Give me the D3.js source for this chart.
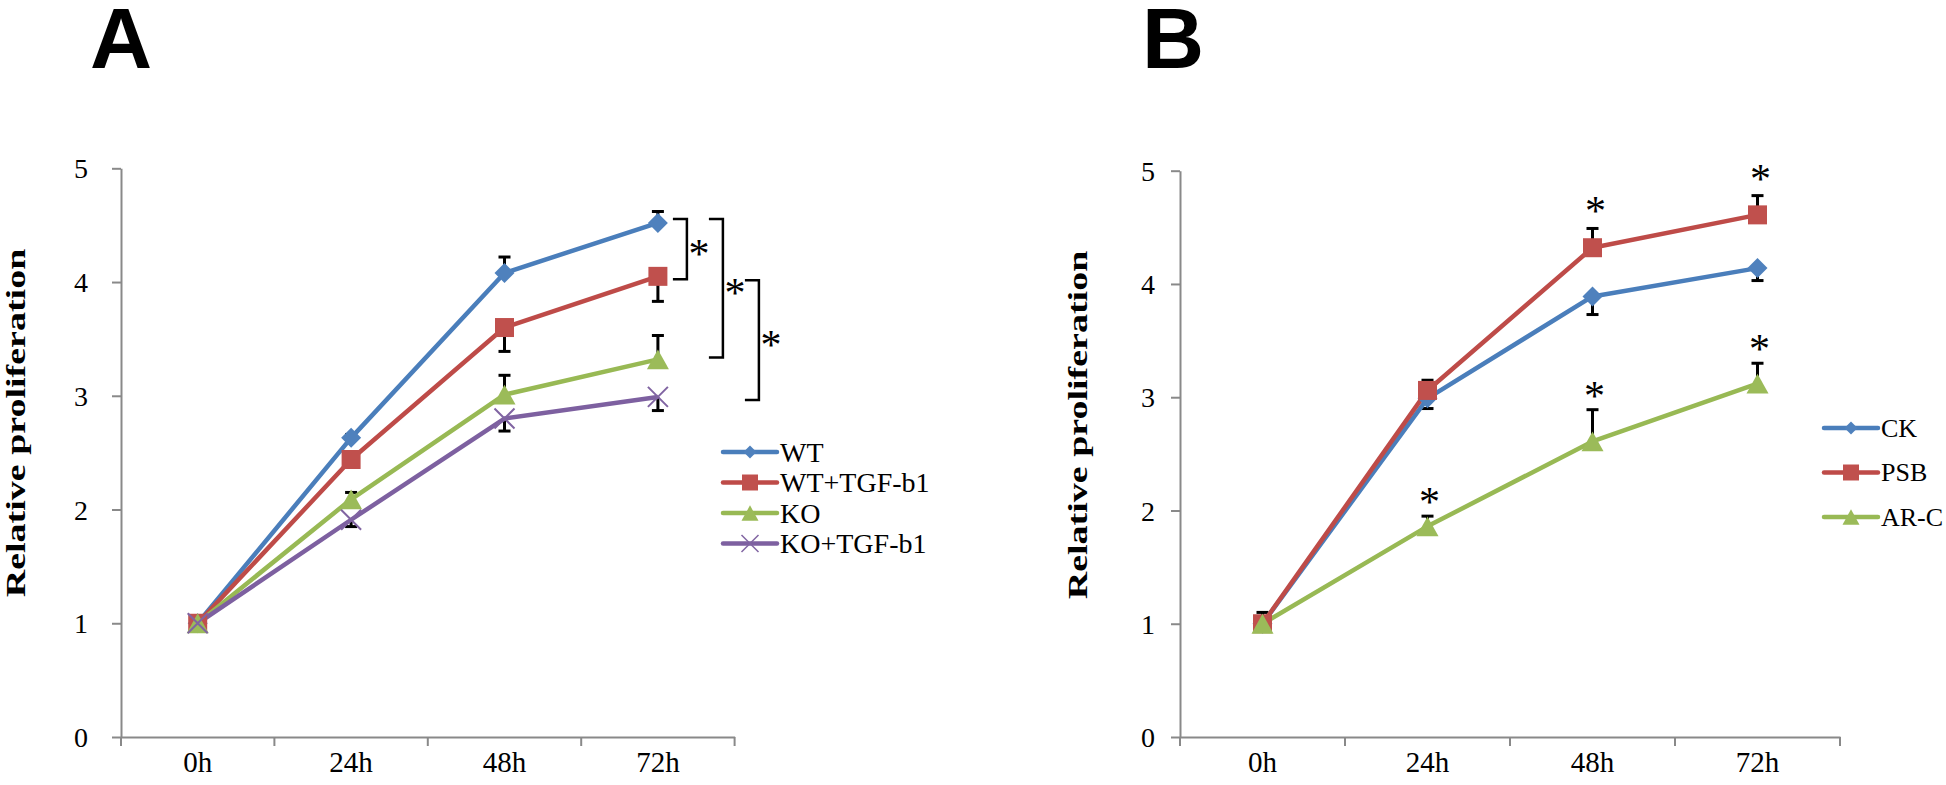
<!DOCTYPE html>
<html>
<head>
<meta charset="utf-8">
<script src="https://cdn.jsdelivr.net/npm/d3@7"></script>
<style>
body { margin: 0; background: #fff; }
svg { display: block; }
</style>
</head>
<body>
<div id="chart"></div>
<script>
const hours = ["0h", "24h", "48h", "72h"];
const yTicks = [0, 1, 2, 3, 4, 5];

// panel A
const namesA = ["WT", "WT+TGF-b1", "KO", "KO+TGF-b1"];
const wt = [1.00, 2.63, 4.08, 4.52];
const wtErr = [0.02, 0.03, 0.14, 0.10];
const wtTgf = [1.00, 2.44, 3.60, 4.05];
const wtTgfErr = [0.02, 0.04, 0.21, 0.22];
const ko = [1.00, 2.09, 3.01, 3.32];
const koErr = [0.02, 0.06, 0.17, 0.21];
const koTgf = [1.00, 1.91, 2.80, 2.99];
const koTgfErr = [0.02, 0.06, 0.11, 0.12];
const bracketsA = [[0, 1], [0, 2], [1, 3]]; // series compared at 72h

// panel B
const namesB = ["CK", "PSB", "AR-C"];
const ck = [1.00, 2.99, 3.89, 4.14];
const ckErr = [0.02, 0.09, 0.16, 0.11];
const psb = [1.00, 3.06, 4.32, 4.61];
const psbErr = [0.10, 0.09, 0.17, 0.17];
const arc = [1.00, 1.86, 2.61, 3.12];
const arcErr = [0.02, 0.09, 0.28, 0.18];
const psbSig = [false, false, true, true];
const arcSig = [false, true, true, true];

const width = 1946, height = 785;
const axisColor = "#898989";
const serif = "'Liberation Serif', 'Times New Roman', serif";

const svg = d3.select("#chart").append("svg")
  .attr("width", width)
  .attr("height", height)
  .attr("viewBox", [0, 0, width, height]);

function markerPath(shape, s) {
  const h = s / 2;
  if (shape === "diamond") return `M0,${-h}L${h},0L0,${h}L${-h},0Z`;
  if (shape === "square") return `M${-h},${-h}h${s}v${s}h${-s}Z`;
  if (shape === "triangle") return `M0,${-h * 0.9}L${h},${h * 0.9}L${-h},${h * 0.9}Z`;
  return `M${-h},${-h}L${h},${h}M${h},${-h}L${-h},${h}`; // x
}

const styles = [
  {line: "#4A7EBB", fill: "#4F81BD", shape: "diamond", size: 20, legendSize: 13},
  {line: "#BE4B48", fill: "#C0504D", shape: "square", size: 19, legendSize: 16},
  {line: "#98B954", fill: "#9BBB59", shape: "triangle", size: 22, legendSize: 17},
  {line: "#7D60A0", fill: "#8064A2", shape: "x", size: 20, legendSize: 17}
];

function drawPanel(p) {
  const x = d3.scaleBand(hours, [p.left, p.right]);
  const y = d3.scaleLinear([0, 5], [p.bottom, p.top]);
  const cx = d => x(d) + x.bandwidth() / 2;
  const g = svg.append("g");

  // y axis
  const ya = g.append("g")
    .attr("transform", `translate(${p.left},0)`)
    .call(d3.axisLeft(y).tickValues(yTicks).tickFormat(d3.format("d"))
      .tickSize(9).tickSizeOuter(0).tickPadding(p.labelPad));
  ya.select(".domain").attr("stroke", axisColor).attr("stroke-width", 2);
  ya.selectAll(".tick line").attr("stroke", axisColor).attr("stroke-width", 2);
  ya.selectAll(".tick text")
    .attr("font-family", serif).attr("font-size", 28).attr("fill", "#000")
    .attr("dy", "0.34em");

  // x axis: ticks on the band edges, labels in the middle
  const xa = g.append("g")
    .attr("transform", `translate(0,${p.bottom})`)
    .call(d3.axisBottom(x).tickSize(0).tickPadding(0).tickSizeOuter(0));
  xa.select(".domain").attr("stroke", axisColor).attr("stroke-width", 2);
  xa.selectAll(".tick text")
    .attr("font-family", serif).attr("font-size", 29).attr("fill", "#000")
    .attr("dy", 0).attr("y", 35);
  xa.selectAll(".edge")
    .data(hours.map(x).concat([p.right]))
    .join("line")
    .attr("x1", d => d).attr("x2", d => d)
    .attr("y1", 0).attr("y2", 9)
    .attr("stroke", axisColor).attr("stroke-width", 2);

  // y title
  g.append("text")
    .attr("transform", `translate(${p.titleX},${p.titleY}) rotate(-90) scale(1,0.72)`)
    .attr("text-anchor", "middle")
    .attr("font-family", serif)
    .attr("font-weight", "bold")
    .attr("font-size", 38)
    .text("Relative proliferation");

  // panel letter
  g.append("text")
    .attr("x", p.letterX).attr("y", 68)
    .attr("font-family", "'Liberation Sans', Arial, sans-serif")
    .attr("font-weight", "bold")
    .attr("font-size", 86)
    .text(p.letter);

  // error bars
  p.series.forEach((s, i) => {
    const eb = g.append("g").attr("stroke", "#000").attr("stroke-width", 3);
    s.values.forEach((v, j) => {
      const end = y(v + p.dirs[i] * s.errors[j]);
      eb.append("line")
        .attr("x1", cx(hours[j])).attr("x2", cx(hours[j]))
        .attr("y1", y(v)).attr("y2", end);
      eb.append("line")
        .attr("x1", cx(hours[j]) - 6).attr("x2", cx(hours[j]) + 6)
        .attr("y1", end).attr("y2", end);
    });
  });

  // lines
  const line = d3.line().x((d, j) => cx(hours[j])).y(d => y(d));
  p.series.forEach((s, i) => {
    g.append("path")
      .attr("d", line(s.values))
      .attr("fill", "none")
      .attr("stroke", styles[i].line)
      .attr("stroke-width", 4.5)
      .attr("stroke-linejoin", "round");
  });

  // markers
  p.series.forEach((s, i) => {
    const st = styles[i];
    g.append("g").selectAll("path")
      .data(s.values)
      .join("path")
      .attr("transform", (d, j) => `translate(${cx(hours[j])},${y(d)})`)
      .attr("d", markerPath(st.shape, st.size))
      .attr("fill", st.shape === "x" ? "none" : st.fill)
      .attr("stroke", st.shape === "x" ? st.fill : "none")
      .attr("stroke-width", 2);
  });

  // legend
  const lg = g.append("g");
  p.series.forEach((s, i) => {
    const st = styles[i];
    const ly = p.legendY + i * p.legendGap;
    lg.append("line")
      .attr("x1", p.legendX).attr("x2", p.legendX + 54)
      .attr("y1", ly).attr("y2", ly)
      .attr("stroke", st.line).attr("stroke-width", 4.5).attr("stroke-linecap", "round");
    lg.append("path")
      .attr("transform", `translate(${p.legendX + 27},${ly})`)
      .attr("d", markerPath(st.shape, st.legendSize))
      .attr("fill", st.shape === "x" ? "none" : st.fill)
      .attr("stroke", st.shape === "x" ? st.fill : "none")
      .attr("stroke-width", 1.5);
    lg.append("text")
      .attr("x", p.legendX + 57).attr("y", ly)
      .attr("dy", "0.34em")
      .attr("font-family", serif).attr("font-size", p.legendFont)
      .text(s.name);
  });

  return {x, y, cx, g};
}

function star(g, x, y) {
  // y is the centre of the asterisk
  g.append("text")
    .attr("x", x).attr("y", y + 19)
    .attr("text-anchor", "middle")
    .attr("font-family", serif)
    .attr("font-size", 42)
    .text("*");
}

const panelA = drawPanel({
  letter: "A", letterX: 90,
  left: 121, right: 734.6, top: 168.3, bottom: 737,
  labelPad: 24, titleX: 25, titleY: 423,
  legendX: 723, legendY: 452, legendGap: 30.5, legendFont: 28,
  dirs: [1, -1, 1, -1],
  series: [
    {name: namesA[0], values: wt, errors: wtErr},
    {name: namesA[1], values: wtTgf, errors: wtTgfErr},
    {name: namesA[2], values: ko, errors: koErr},
    {name: namesA[3], values: koTgf, errors: koTgfErr}
  ]
});

// significance brackets at 72h
const last = [wt, wtTgf, ko, koTgf].map(v => v[3]);
const x72 = panelA.cx("72h");
bracketsA.forEach(([a, b], k) => {
  const x0 = x72 + 15 + k * 36;
  const x1 = x0 + 14;
  const yTop = panelA.y(last[a]) + (k === 2 ? 4 : -4);
  const yBot = panelA.y(last[b]) + (k === 1 ? -2 : 3);
  panelA.g.append("path")
    .attr("d", `M${x0},${yTop}H${x1}V${yBot}H${x0}`)
    .attr("fill", "none")
    .attr("stroke", "#000")
    .attr("stroke-width", 2.5);
  star(panelA.g, x1 + 12, (yTop + yBot) / 2);
});

const panelB = drawPanel({
  letter: "B", letterX: 1142,
  left: 1180, right: 1840, top: 170.7, bottom: 737,
  labelPad: 16, titleX: 1087, titleY: 425,
  legendX: 1824, legendY: 428, legendGap: 44.5, legendFont: 26,
  dirs: [-1, 1, 1],
  series: [
    {name: namesB[0], values: ck, errors: ckErr},
    {name: namesB[1], values: psb, errors: psbErr},
    {name: namesB[2], values: arc, errors: arcErr}
  ]
});

// stars above the error bars
hours.forEach((h, j) => {
  if (psbSig[j]) star(panelB.g, panelB.cx(h) + 3, panelB.y(psb[j] + psbErr[j]) - 22);
  if (arcSig[j]) star(panelB.g, panelB.cx(h) + 2, panelB.y(arc[j] + arcErr[j]) - 19);
});
</script>
</body>
</html>
